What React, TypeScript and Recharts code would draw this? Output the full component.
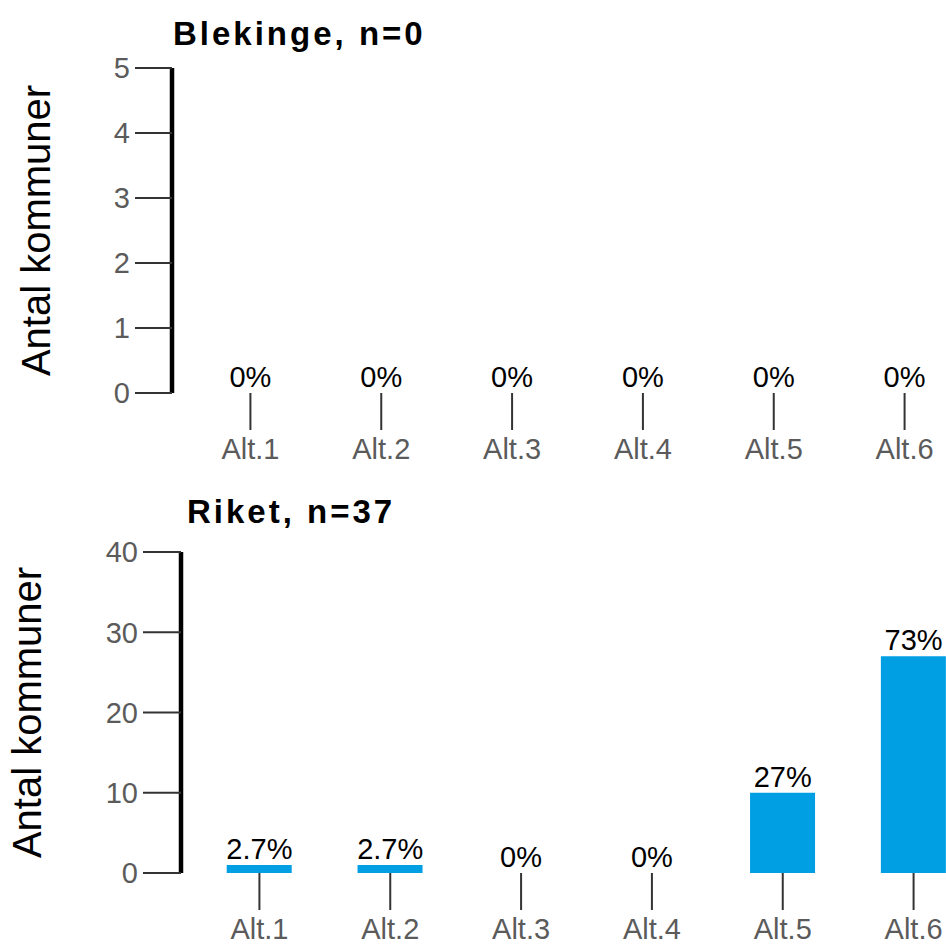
import React from 'react';
import { ComposedChart, Bar, Line, XAxis, YAxis, LabelList } from 'recharts';

const FONT = '"Liberation Sans", Arial, Helvetica, sans-serif';

const categories = ['Alt.1', 'Alt.2', 'Alt.3', 'Alt.4', 'Alt.5', 'Alt.6'];
const blekingeCounts = [0, 0, 0, 0, 0, 0];
const riketCounts = [1, 1, 0, 0, 10, 27];
const blekingeN = 0;
const riketN = 37;
const blekingeTicks = [0, 1, 2, 3, 4, 5];
const riketTicks = [0, 10, 20, 30, 40];
const blekingeTitle = 'Blekinge, n=0';
const riketTitle = 'Riket, n=37';
const yAxisTitle = 'Antal kommuner';

function pctLabel(count: number, n: number): string {
  if (!n) return '0%';
  return `${Number(((count / n) * 100).toPrecision(2))}%`;
}

function buildData(counts: number[], n: number) {
  return categories.map((c, i) => ({ cat: c, value: counts[i], label: pctLabel(counts[i], n) }));
}

const blekingeData = buildData(blekingeCounts, blekingeN);
const riketData = buildData(riketCounts, riketN);

type PanelProps = {
  data: { cat: string; value: number; label: string }[];
  ticks: number[];
  height: number;
  marginTop: number;
  marginRight: number;
  marginBottom: number;
  xAxisHeight: number;
  yAxisWidth: number;
  labelX: number;
  tickSize: number;
};

function Panel(p: PanelProps) {
  const YLabel = (props: any) => {
    const vb = props.viewBox || {
      x: 8,
      y: p.marginTop,
      width: p.yAxisWidth,
      height: p.height - p.marginTop - p.marginBottom - p.xAxisHeight,
    };
    const cx = (vb.x || 0) + p.labelX;
    const cy = vb.y + vb.height / 2;
    return (
      <text
        x={cx}
        y={cy}
        transform={`rotate(-90, ${cx}, ${cy})`}
        textAnchor="middle"
        fontSize={40}
        fontFamily={FONT}
        fill="#000"
      >
        {yAxisTitle}
      </text>
    );
  };
  return (
    <ComposedChart
      width={1010}
      height={p.height}
      data={p.data}
      margin={{ top: p.marginTop, right: p.marginRight, bottom: p.marginBottom, left: 8 }}
      barCategoryGap="25%"
    >
      <XAxis
        dataKey="cat"
        axisLine={false}
        tickLine={{ stroke: '#333', strokeWidth: 2 }}
        tickSize={37}
        tickMargin={8}
        padding={{ left: 13, right: 0 }}
        height={p.xAxisHeight}
        interval={0}
        tick={{ fill: '#5b5b5b', fontSize: 29, fontFamily: FONT }}
      />
      <YAxis
        width={p.yAxisWidth}
        domain={[p.ticks[0], p.ticks[p.ticks.length - 1]]}
        ticks={p.ticks}
        interval={0}
        allowDataOverflow
        axisLine={{ stroke: '#000', strokeWidth: 4.5 }}
        tickLine={{ stroke: '#333', strokeWidth: 2 }}
        tickSize={p.tickSize}
        tickMargin={5}
        tick={{ fill: '#5b5b5b', fontSize: 29, fontFamily: FONT }}
        label={{ content: YLabel }}
      />
      <Bar dataKey="value" fill="#009fe3" isAnimationActive={false} />
      <Line
        dataKey="value"
        stroke="none"
        dot={false}
        activeDot={false}
        isAnimationActive={false}
        legendType="none"
      >
        <LabelList dataKey="label" position="top" offset={6} fill="#000" fontSize={29} fontFamily={FONT} />
      </Line>
    </ComposedChart>
  );
}

const titleStyle: React.CSSProperties = {
  position: 'absolute',
  fontFamily: FONT,
  fontWeight: 'bold',
  fontSize: 33,
  lineHeight: '1',
  letterSpacing: '3px',
  color: '#000',
  whiteSpace: 'nowrap',
};

export default function App() {
  return (
    <div style={{ position: 'absolute', left: 0, top: 0, width: 946, height: 944, overflow: 'hidden', background: '#fff' }}>
      <div style={{ position: 'absolute', left: 0, top: 0 }}>
        <Panel
          data={blekingeData}
          ticks={blekingeTicks}
          height={478}
          marginTop={68}
          marginRight={40}
          marginBottom={15}
          xAxisHeight={70}
          yAxisWidth={164}
          labelX={42}
          tickSize={37}
        />
      </div>
      <div style={{ position: 'absolute', left: 0, top: 478 }}>
        <Panel
          data={riketData}
          ticks={riketTicks}
          height={466}
          marginTop={74}
          marginRight={31}
          marginBottom={6}
          xAxisHeight={65}
          yAxisWidth={173}
          labelX={33}
          tickSize={38}
        />
      </div>
      <div style={{ ...titleStyle, left: 173, top: 17 }}>{blekingeTitle}</div>
      <div style={{ ...titleStyle, left: 187, top: 495 }}>{riketTitle}</div>
    </div>
  );
}
